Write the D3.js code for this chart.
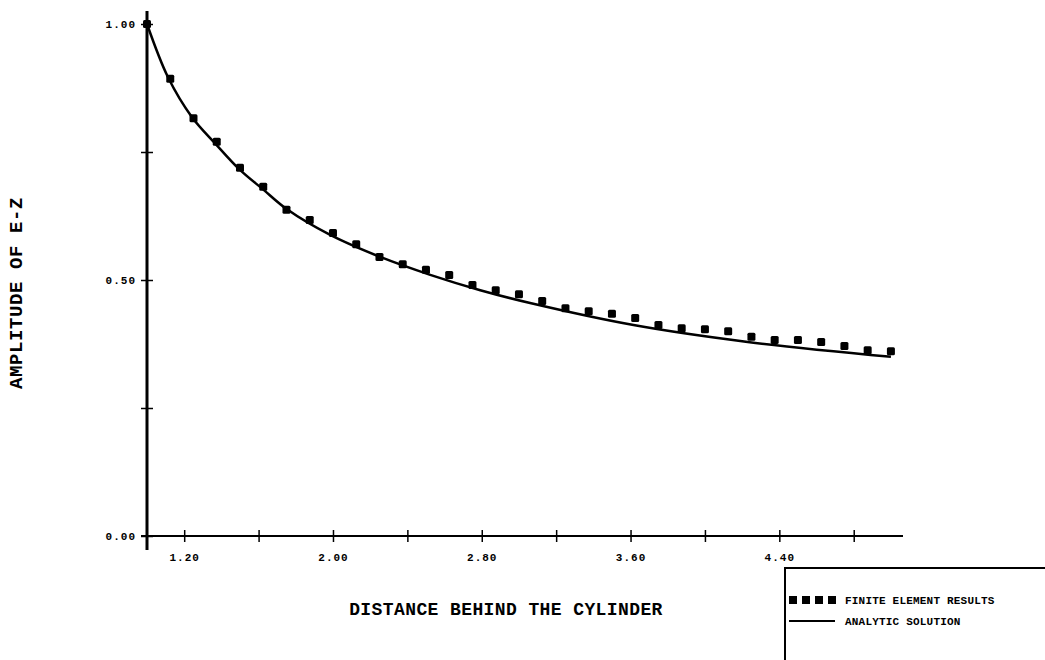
<!DOCTYPE html>
<html>
<head>
<meta charset="utf-8">
<script src="https://cdn.jsdelivr.net/npm/d3@7"></script>
<style>
  body { margin: 0; background: #fff; }
  svg text { font-family: "Liberation Mono", "DejaVu Sans Mono", monospace; font-weight: bold; fill: #000; }
</style>
</head>
<body>
<script>
// finite element results
const feX = [1.000, 1.125, 1.250, 1.375, 1.500, 1.625, 1.750, 1.875, 2.000, 2.125, 2.250,
             2.375, 2.500, 2.625, 2.750, 2.875, 3.000, 3.125, 3.250, 3.375, 3.500, 3.625,
             3.750, 3.875, 4.000, 4.125, 4.250, 4.375, 4.500, 4.625, 4.750, 4.875, 5.000];
const feY = [1.000, 0.893, 0.816, 0.770, 0.719, 0.682, 0.637, 0.617, 0.592, 0.570, 0.545,
             0.531, 0.520, 0.510, 0.490, 0.480, 0.472, 0.459, 0.445, 0.439, 0.434, 0.426,
             0.412, 0.406, 0.404, 0.400, 0.389, 0.383, 0.383, 0.379, 0.371, 0.363, 0.361];

// analytic solution
const anX = [1.000, 1.113, 1.242, 1.366, 1.500, 1.624, 1.753, 1.985, 2.254, 2.523, 2.792, 3.060, 3.616, 4.230, 5.000];
const anY = [1.000, 0.896, 0.818, 0.767, 0.715, 0.677, 0.638, 0.588, 0.545, 0.510, 0.480, 0.455, 0.412, 0.379, 0.350];

const xTicks = [1.2, 1.6, 2.0, 2.4, 2.8, 3.2, 3.6, 4.0, 4.4, 4.8];
const xLabels = ["1.20", "", "2.00", "", "2.80", "", "3.60", "", "4.40", ""];
const yTicks = [0, 0.25, 0.5, 0.75, 1.0];
const yLabels = ["0.00", "", "0.50", "", "1.00"];

const legendItems = ["FINITE ELEMENT RESULTS", "ANALYTIC SOLUTION"];

const width = 1045, height = 660;
const svg = d3.select("body").append("svg")
  .attr("width", width)
  .attr("height", height);

const x = d3.scaleLinear().domain([1, 5.065]).range([147, 903]);
const y = d3.scaleLinear().domain([0, 1]).range([536, 24]);

// axes lines
svg.append("line")
  .attr("x1", x(1)).attr("x2", x(1))
  .attr("y1", 11).attr("y2", 550)
  .attr("stroke", "#000").attr("stroke-width", 3);
svg.append("line")
  .attr("x1", x(1) - 6).attr("x2", 903)
  .attr("y1", y(0)).attr("y2", y(0))
  .attr("stroke", "#000").attr("stroke-width", 2);

// x axis ticks
const xAxis = d3.axisBottom(x).tickValues(xTicks).tickSize(6)
  .tickFormat((d, i) => xLabels[i]);
const gx = svg.append("g").attr("transform", `translate(0,${y(0)})`).call(xAxis);
gx.select(".domain").remove();
gx.selectAll(".tick line").attr("y1", -6).attr("y2", 6).attr("stroke-width", 1.5);
gx.selectAll(".tick text")
  .attr("y", 17)
  .style("font-size", "11px")
  .style("letter-spacing", "1px");

// y axis ticks
const yAxis = d3.axisLeft(y).tickValues(yTicks).tickSize(6)
  .tickFormat((d, i) => yLabels[i]);
const gy = svg.append("g").attr("transform", `translate(${x(1)},0)`).call(yAxis);
gy.select(".domain").remove();
gy.selectAll(".tick line").attr("x1", -6).attr("x2", 6).attr("stroke-width", 1.5);
gy.selectAll(".tick text")
  .attr("x", -11)
  .style("font-size", "11px")
  .style("letter-spacing", "1px");

// analytic line
const line = d3.line()
  .x((d, i) => x(anX[i]))
  .y((d) => y(d))
  .curve(d3.curveCatmullRom.alpha(0.5));
svg.append("path")
  .datum(anY)
  .attr("fill", "none")
  .attr("stroke", "#000")
  .attr("stroke-width", 2.5)
  .attr("d", line);

// finite element squares
const sq = 8;
svg.append("g").selectAll("rect")
  .data(feY)
  .enter()
  .append("rect")
  .attr("x", (d, i) => x(feX[i]) - sq / 2)
  .attr("y", (d) => y(d) - sq / 2)
  .attr("width", sq)
  .attr("height", sq)
  .attr("rx", 1.5)
  .attr("fill", "#000");

// titles
svg.append("text")
  .attr("x", 506)
  .attr("y", 615)
  .attr("text-anchor", "middle")
  .style("font-size", "18px")
  .style("letter-spacing", "0.4px")
  .text("DISTANCE BEHIND THE CYLINDER");

svg.append("text")
  .attr("transform", "translate(22,293) rotate(-90)")
  .attr("text-anchor", "middle")
  .style("font-size", "19px")
  .style("letter-spacing", "0.6px")
  .text("AMPLITUDE OF E-Z");

// legend
const legend = svg.append("g").attr("id", "legend");
legend.append("path")
  .attr("d", "M785,660 V568 H1045")
  .attr("fill", "none")
  .attr("stroke", "#000")
  .attr("stroke-width", 2);

legend.selectAll("rect")
  .data(d3.range(4))
  .enter()
  .append("rect")
  .attr("x", (d) => 789 + d * 13)
  .attr("y", 596)
  .attr("width", 8)
  .attr("height", 8)
  .attr("fill", "#000");

legend.append("line")
  .attr("x1", 789).attr("x2", 835)
  .attr("y1", 621).attr("y2", 621)
  .attr("stroke", "#000").attr("stroke-width", 2);

legend.selectAll("text")
  .data(legendItems)
  .enter()
  .append("text")
  .attr("x", 845)
  .attr("y", (d, i) => 604 + i * 21)
  .style("font-size", "11px")
  .style("letter-spacing", "0.2px")
  .text((d) => d);
</script>
</body>
</html>
